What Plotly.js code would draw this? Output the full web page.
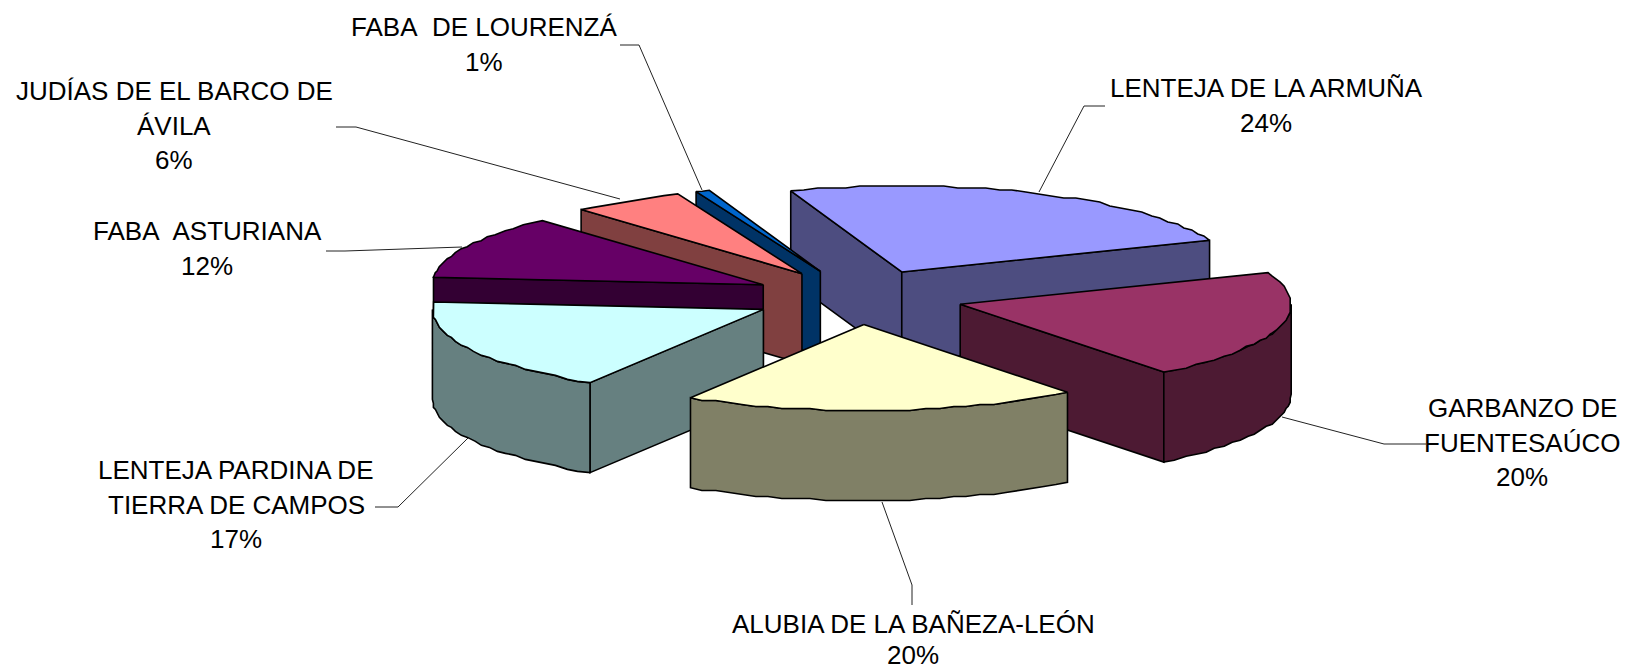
<!DOCTYPE html>
<html>
<head>
<meta charset="utf-8">
<script src="https://cdn.plot.ly/plotly-3.0.0.min.js"></script>
<style>html,body{margin:0;padding:0;background:#fff}#chart{width:1625px;height:670px}</style>
</head>
<body>
<div id="chart"></div>
<script>
// ---- data ----
const categories = ["LENTEJA DE LA ARMUÑA", "GARBANZO DE FUENTESAÚCO", "ALUBIA DE LA BAÑEZA-LEÓN",
  "LENTEJA PARDINA DE TIERRA DE CAMPOS", "FABA  ASTURIANA", "JUDÍAS DE EL BARCO DE ÁVILA", "FABA  DE LOURENZÁ"];
const values = [24.45, 20.45, 19.32, 17.6, 12.0, 5.5, 0.68];
const topColors = ["#9999FF", "#993366", "#FFFFCC", "#CCFFFF", "#660066", "#FF8080", "#0066CC"];
const wallColors = ["#4D4D80", "#4D1A33", "#808066", "#668080", "#330033", "#804040", "#003366"];
const labelLines = [
  ["LENTEJA DE LA ARMUÑA", "24%"],
  ["GARBANZO DE", "FUENTESAÚCO", "20%"],
  ["ALUBIA DE LA BAÑEZA-LEÓN", "20%"],
  ["LENTEJA PARDINA DE", "TIERRA DE CAMPOS", "17%"],
  ["FABA\u00A0 ASTURIANA", "12%"],
  ["JUDÍAS DE EL BARCO DE", "ÁVILA", "6%"],
  ["FABA\u00A0 DE LOURENZÁ", "1%"]
];

// ---- layout constants (pie projection, pixel-scaled axes) ----
const W = 1625, H = 670;
const CX = 858, CY = 297, RX = 331, RY = 86, DEPTH = 90, EXPLODE = 0.32, START_DEG = -109.6;
const GRID = 2; // the rim is drawn as a coarse polygon on a pixel grid, as in the original renderer
const drawOrder = [0, 6, 5, 4, 3, 1, 2];
const labelX = [1266, 1522, 913, 236, 207, 174, 484];
const labelY = [88, 408, 624, 470, 231, 91, 27];
const labelLineH = [34.5, 34.5, 31, 34.5, 34.5, 34.5, 34.5];
const leaders = [
  [[1105,106],[1084,106],[1039,192]],
  [[1426,444],[1384,444],[1282,417]],
  [[912,605],[912,585],[882,502]],
  [[375,507],[398,507],[468,438]],
  [[326,251],[345,251],[462,247]],
  [[336,127],[356,127],[620,199]],
  [[620,45],[639,45],[702,190]]
];

const rad = d => d * Math.PI / 180;
const total = values.reduce((a, b) => a + b, 0);
let cursor = START_DEG;
const slices = values.map((v, i) => {
  const a = cursor, b = cursor + v / total * 360;
  cursor = b;
  const m = rad((a + b) / 2);
  return { i, a, b, ax: CX + EXPLODE * RX * Math.cos(m), ay: CY + EXPLODE * RY * Math.sin(m) };
});
const rim = (s, t) => [s.ax + RX * Math.cos(rad(t)), s.ay + RY * Math.sin(rad(t))];
const snap = (s, p) => [s.ax + Math.round((p[0] - s.ax) / GRID) * GRID, s.ay + Math.round((p[1] - s.ay) / GRID) * GRID];
function arc(s, t0, t1) {
  const n = Math.max(2, Math.ceil(Math.abs(t1 - t0) / 2.5));
  const pts = [];
  for (let k = 0; k <= n; k++) {
    const p = rim(s, t0 + (t1 - t0) * k / n);
    pts.push(k === 0 || k === n ? p : snap(s, p));
  }
  return pts;
}
function poly(pts, fill, name) {
  const c = pts.concat([pts[0]]);
  return { type: "scatter", mode: "lines", x: c.map(p => p[0]), y: c.map(p => p[1]), fill: "toself",
    fillcolor: fill, line: { color: "#000", width: 1.6, shape: "linear" }, name: name, showlegend: false, hoverinfo: "name" };
}
const down = p => [p[0], p[1] + DEPTH];
const traces = [];
drawOrder.forEach(idx => {
  const s = slices[idx], name = categories[idx], wall = wallColors[idx];
  const apex = [s.ax, s.ay];
  const ca = rim(s, s.a), cb = rim(s, s.b);
  // front-facing radial walls
  if (Math.cos(rad(s.a)) < 0) traces.push(poly([apex, ca, down(ca), down(apex)], wall, name));
  if (Math.cos(rad(s.b)) > 0) traces.push(poly([apex, cb, down(cb), down(apex)], wall, name));
  // front-facing part of the curved wall (screen angles 0..180 modulo 360)
  for (let base = -360; base <= 360; base += 360) {
    const t0 = Math.max(s.a, base), t1 = Math.min(s.b, base + 180);
    if (t1 > t0) {
      const top = arc(s, t0, t1);
      traces.push(poly(top.concat(top.slice().reverse().map(down)), wall, name));
    }
  }
  // top face
  traces.push(poly([apex].concat(arc(s, s.a, s.b)), topColors[idx], name));
});

const annotations = [];
labelLines.forEach((lines, i) => lines.forEach((txt, k) => annotations.push({
  xref: "x", yref: "y", x: labelX[i], y: labelY[i] + k * labelLineH[i], text: txt, showarrow: false,
  xanchor: "center", yanchor: "middle", font: { family: "Liberation Sans, Arial, sans-serif", size: 26, color: "#000" }
})));
const shapes = leaders.map(l => ({
  type: "path", xref: "x", yref: "y", layer: "below", line: { color: "#222", width: 1 },
  path: "M" + l.map(p => p.join(",")).join("L")
}));

Plotly.newPlot("chart", traces, {
  width: W, height: H, margin: { l: 0, r: 0, t: 0, b: 0 }, paper_bgcolor: "#fff", plot_bgcolor: "#fff",
  showlegend: false,
  xaxis: { range: [0, W], visible: false, fixedrange: true },
  yaxis: { range: [H, 0], visible: false, fixedrange: true },
  annotations, shapes
}, { displayModeBar: false, staticPlot: false });
</script>
</body>
</html>
